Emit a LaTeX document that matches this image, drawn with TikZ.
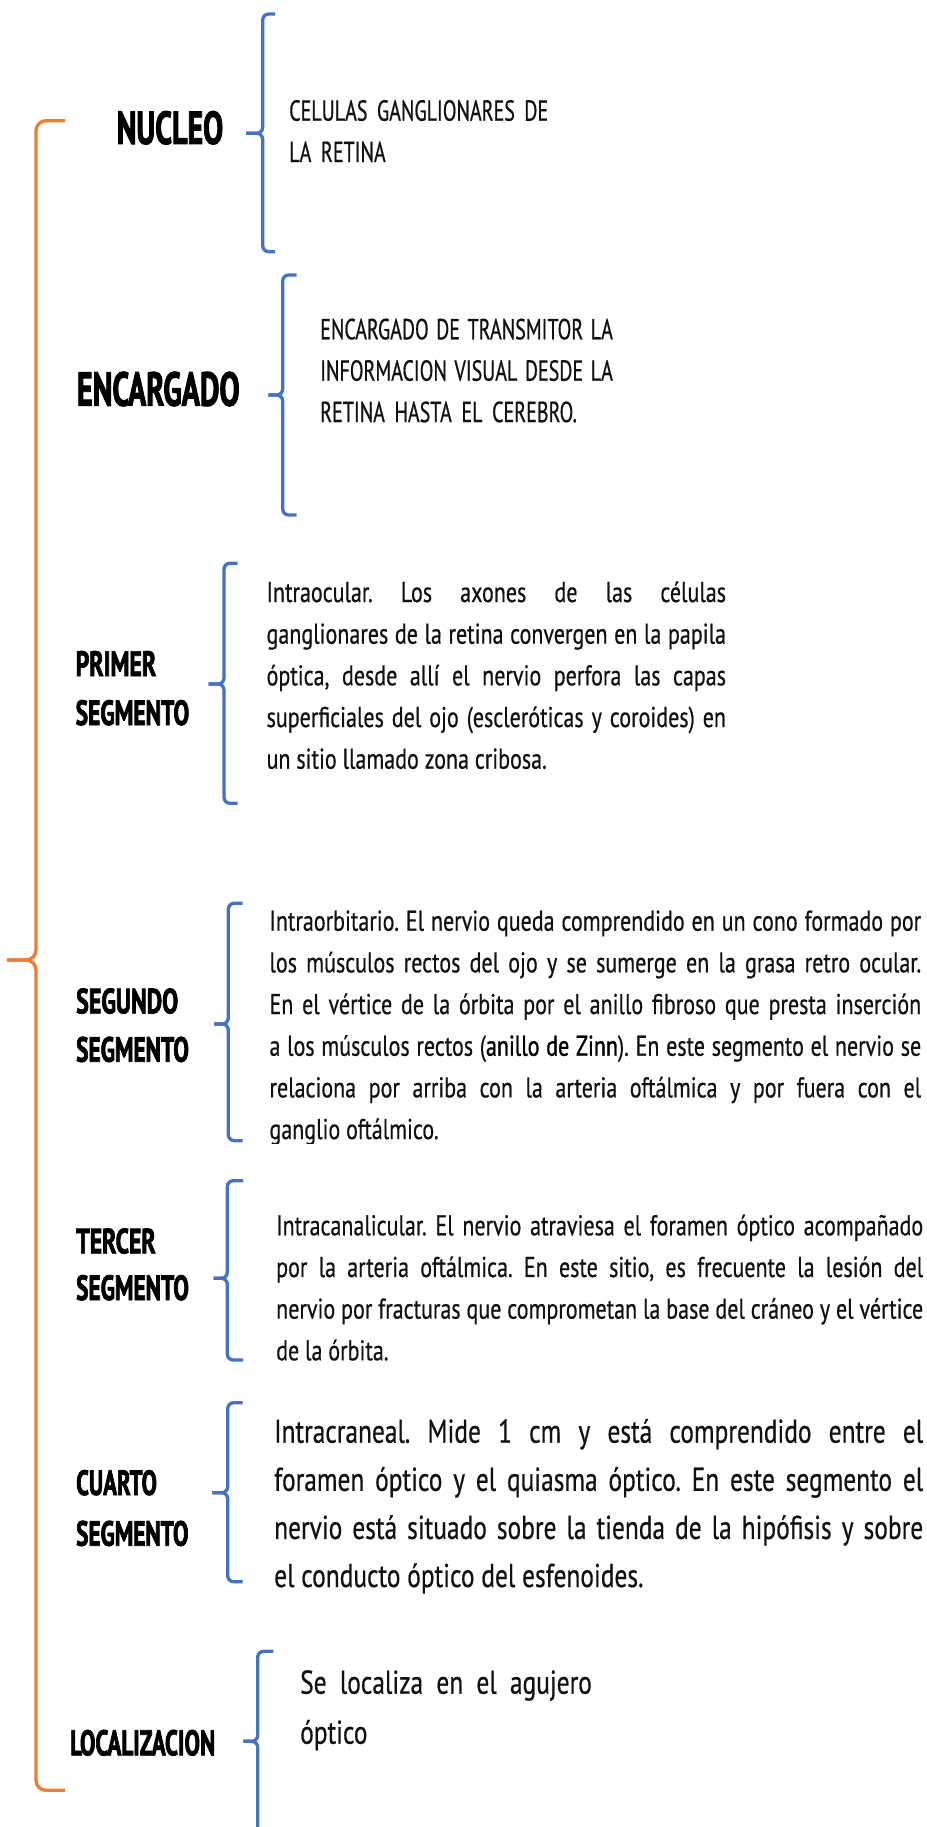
\documentclass[tikz,border=0pt]{standalone}
\usepackage{fontspec}
\usepackage{graphicx}
\setmainfont{PT Sans}
\newfontfamily\descfont{PT Sans}[FakeStretch=0.77,FakeBold=0.5]
\newfontfamily\zinnfont{PT Sans}[FakeStretch=0.77,FakeBold=1.1]
\newfontfamily\capsfont{PT Sans}[FakeStretch=0.69,FakeBold=0.6,WordSpace=1.8]
\newfontfamily\hdrfont{PT Sans}[FakeStretch=0.7,FakeBold=2]
\frenchspacing
\definecolor{bblue}{HTML}{4472C4}
\definecolor{borange}{HTML}{ED7D31}
\definecolor{txt}{HTML}{111111}
\newcommand\jline[2]{\makebox[#1pt][s]{#2}}
\newcommand\hdtext[3]{\resizebox{#1pt}{#2pt}{\hdrfont\bfseries #3}}
\newcommand\drawbrace[7]{%
  \draw[#1] (#7,#3) -- (#2,#3) -- (#2,#6) -- (#5,#6);
  \draw[#1] (#5,#6) -- (#2,#6) -- (#2,#4) -- (#7,#4);
}
\tikzset{
  hdr/.style={anchor=base west, inner sep=0pt, text=black},
  hdrtwo/.style={anchor=base west, inner sep=0pt, text=black, font=\fontsize{20}{#1}\selectfont},
  segtext/.style={anchor=base west, inner sep=0pt, text=txt, font=\descfont\frenchspacing\fontsize{28.6}{41.67}\selectfont},
  bigtext/.style={anchor=base west, inner sep=0pt, text=txt, font=\descfont\frenchspacing\fontsize{33}{#1}\selectfont},
  capstext/.style={anchor=base west, inner sep=0pt, text=txt, font=\capsfont\frenchspacing\fontsize{29}{41.4}\selectfont},
  bluebr/.style={draw=bblue, line width=3.3pt, rounded corners=6pt},
  orbr/.style={draw=borange, line width=3.3pt, rounded corners=10pt},
}
\begin{document}
\begin{tikzpicture}[x=1pt,y=-1pt]
\useasboundingbox[fill=white] (0,0) rectangle (926,1827);

% orange main brace
\drawbrace{orbr}{36}{120.7}{1790.3}{7}{960}{65}

% blue braces
\drawbrace{bluebr}{262.7}{14}{251.7}{246}{133.3}{275}
\drawbrace{bluebr}{282.7}{275}{515}{268.3}{395}{296.7}
\drawbrace{bluebr}{224}{563.3}{803.3}{208.5}{684}{237.7}
\drawbrace{bluebr}{228.3}{903.3}{1140.7}{214}{1024}{242.7}
\drawbrace{bluebr}{227.3}{1180.7}{1360}{213.6}{1278.3}{243}
\drawbrace{bluebr}{227.7}{1402.7}{1581.7}{212.3}{1492.7}{242.7}
\drawbrace{bluebr}{257.7}{1651.3}{1840}{243.3}{1741.3}{273.3}

% headers
\node[hdr] (h1) at (116.5,144) {\hdtext{106.5}{33}{NUCLEO}};
\node[hdr] (h2) at (76.7,405.7) {\hdtext{162.7}{34}{ENCARGADO}};
\node[hdrtwo=49] (h3) at (75.5,676) {\begin{tabular}[t]{@{}l@{}}\hdtext{80.5}{25}{PRIMER}\\\hdtext{113.5}{25}{SEGMENTO}\end{tabular}};
\node[hdrtwo=48.4] (h4) at (76,1013.3) {\begin{tabular}[t]{@{}l@{}}\hdtext{102}{25}{SEGUNDO}\\\hdtext{112.7}{25}{SEGMENTO}\end{tabular}};
\node[hdrtwo=46.7] (h5) at (76,1253.3) {\begin{tabular}[t]{@{}l@{}}\hdtext{79.5}{25}{TERCER}\\\hdtext{112.7}{25}{SEGMENTO}\end{tabular}};
\node[hdrtwo=50.7] (h6) at (76,1495) {\begin{tabular}[t]{@{}l@{}}\hdtext{80.7}{25}{CUARTO}\\\hdtext{112.3}{25}{SEGMENTO}\end{tabular}};
\node[hdr] (h7) at (70,1755.3) {\hdtext{145}{25.5}{LOCALIZACION}};

% descriptions
\node[capstext] (d1) at (289,120.7) {\begin{tabular}[t]{@{}l@{}}\jline{259}{CELULAS GANGLIONARES DE}\\LA RETINA\end{tabular}};
\node[capstext] (d2) at (320,339.3) {\begin{tabular}[t]{@{}l@{}}\jline{292.7}{ENCARGADO DE TRANSMITOR LA}\\\jline{292.7}{INFORMACION VISUAL DESDE LA}\\RETINA HASTA EL CEREBRO.\end{tabular}};
\node[segtext] (d3) at (266.4,602) {\begin{tabular}[t]{@{}l@{}}%
\jline{459.4}{Intraocular. Los axones de las células}\\
\jline{459.4}{ganglionares de la retina convergen en la papila}\\
\jline{459.4}{óptica, desde allí el nervio perfora las capas}\\
\jline{459.4}{superficiales del ojo (escleróticas y coroides) en}\\
un sitio llamado zona cribosa.\end{tabular}};
\begin{scope}
\clip (0,0) rectangle (926,1143);
\node[segtext] (d4) at (269.3,930.7) {\begin{tabular}[t]{@{}l@{}}%
\jline{651.7}{Intraorbitario. El nervio queda comprendido en un cono formado por}\\
\jline{651.7}{los músculos rectos del ojo y se sumerge en la grasa retro ocular.}\\
\jline{651.7}{En el vértice de la órbita por el anillo fibroso que presta inserción}\\
\jline{651.7}{a los músculos rectos ({\zinnfont\color{black}anillo de Zinn}). En este segmento el nervio se}\\
\jline{651.7}{relaciona por arriba con la arteria oftálmica y por fuera con el}\\
ganglio oftálmico.\end{tabular}};
\end{scope}
\node[segtext] (d5) at (276,1235.3) {\begin{tabular}[t]{@{}l@{}}%
\jline{647}{Intracanalicular. El nervio atraviesa el foramen óptico acompañado}\\
\jline{647}{por la arteria oftálmica. En este sitio, es frecuente la lesión del}\\
\jline{647}{nervio por fracturas que comprometan la base del cráneo y el vértice}\\
de la órbita.\end{tabular}};
\node[bigtext=48.1] (d6) at (274,1442.7) {\begin{tabular}[t]{@{}l@{}}%
\jline{649}{Intracraneal. Mide 1 cm y está comprendido entre el}\\
\jline{649}{foramen óptico y el quiasma óptico. En este segmento el}\\
\jline{649}{nervio está situado sobre la tienda de la hipófisis y sobre}\\
el conducto óptico del esfenoides.\end{tabular}};
\node[bigtext=50] (d7) at (300,1693.7) {\begin{tabular}[t]{@{}l@{}}%
\jline{291.7}{Se localiza en el agujero}\\
óptico\end{tabular}};
\end{tikzpicture}
\end{document}
